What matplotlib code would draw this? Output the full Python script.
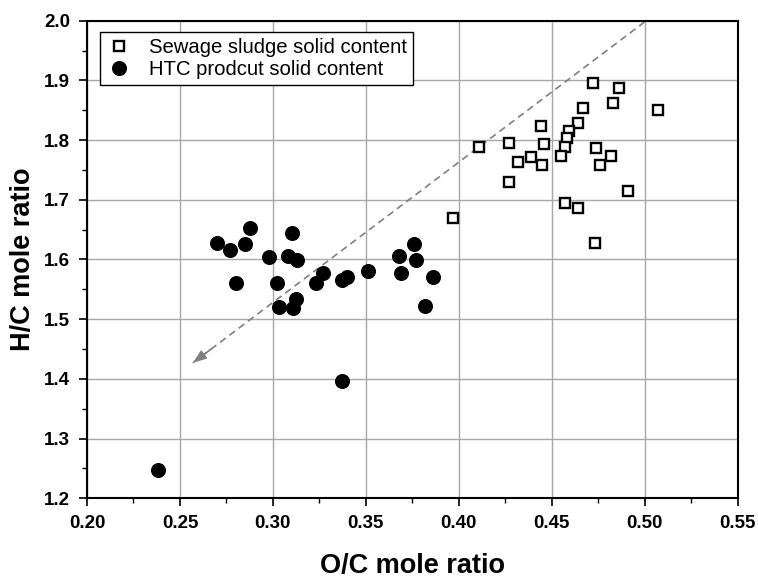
import matplotlib
matplotlib.use("Agg")
import matplotlib.pyplot as plt

plt.rcParams['font.family'] = ['Liberation Sans', 'DejaVu Sans']

# Sewage sludge solid content (O/C, H/C)
sludge_oc = [0.472, 0.486, 0.483, 0.467, 0.444, 0.464, 0.459, 0.458, 0.457, 0.455,
             0.411, 0.427, 0.446, 0.432, 0.439, 0.445, 0.474, 0.482, 0.476, 0.427,
             0.491, 0.457, 0.464, 0.397, 0.473, 0.507]
sludge_hc = [1.896, 1.888, 1.862, 1.853, 1.823, 1.828, 1.815, 1.803, 1.789, 1.773,
             1.788, 1.795, 1.793, 1.764, 1.772, 1.758, 1.786, 1.774, 1.758, 1.730,
             1.714, 1.695, 1.686, 1.669, 1.628, 1.851]

# HTC product solid content (O/C, H/C)
htc_oc = [0.270, 0.277, 0.2875, 0.285, 0.280, 0.298, 0.308, 0.310, 0.313, 0.302,
          0.303, 0.311, 0.3125, 0.323, 0.327, 0.337, 0.340, 0.351, 0.368, 0.376,
          0.377, 0.369, 0.386, 0.382, 0.337, 0.238]
htc_hc = [1.628, 1.616, 1.653, 1.626, 1.560, 1.604, 1.606, 1.644, 1.599, 1.560,
          1.521, 1.518, 1.534, 1.560, 1.577, 1.566, 1.570, 1.581, 1.606, 1.626,
          1.599, 1.578, 1.570, 1.522, 1.396, 1.248]

# Trend arrow (start -> end), in data units
arrow_start = (0.500, 1.998)
arrow_end = (0.257, 1.427)

x_ticks = [0.20, 0.25, 0.30, 0.35, 0.40, 0.45, 0.50, 0.55]
y_ticks = [1.2, 1.3, 1.4, 1.5, 1.6, 1.7, 1.8, 1.9, 2.0]

fig = plt.figure(figsize=(7.58, 5.78), dpi=100)
ax = fig.add_axes([0.1148, 0.1379, 0.8584, 0.8263])

ax.grid(True, color='#a8a8a8', linewidth=1.0, zorder=0)
ax.set_axisbelow(True)

# dashed arrow line
ax.plot([arrow_start[0], arrow_end[0]], [arrow_start[1], arrow_end[1]],
        color='#808080', linewidth=1.2, dashes=(4.2, 2.8), zorder=2)
dx = arrow_end[0] - arrow_start[0]
dy = arrow_end[1] - arrow_start[1]
ax.annotate('', xy=arrow_end,
            xytext=(arrow_end[0] - 0.04 * dx, arrow_end[1] - 0.04 * dy),
            arrowprops=dict(arrowstyle='-|>,head_length=0.8,head_width=0.3',
                            color='#808080', lw=1.2, shrinkA=0, shrinkB=0),
            zorder=2)

ax.plot(sludge_oc, sludge_hc, linestyle='none', marker='s', markersize=7.4,
        markerfacecolor='white', markeredgecolor='black', markeredgewidth=1.7,
        label='Sewage sludge solid content', zorder=3)
ax.plot(htc_oc, htc_hc, linestyle='none', marker='o', markersize=9.8,
        markerfacecolor='black', markeredgecolor='black',
        label='HTC prodcut solid content', zorder=3)

ax.set_xlim(0.20, 0.55)
ax.set_ylim(1.2, 2.0)
ax.set_xticks(x_ticks)
ax.set_yticks(y_ticks)
ax.set_xticklabels([f'{v:.2f}' for v in x_ticks])
ax.set_yticklabels([f'{v:.1f}' for v in y_ticks])
ax.set_xticks([0.225, 0.275, 0.325, 0.375, 0.425, 0.475, 0.525], minor=True)
ax.set_yticks([1.25, 1.35, 1.45, 1.55, 1.65, 1.75, 1.85, 1.95], minor=True)

ax.tick_params(axis='both', which='major', direction='out', length=6, width=1.2,
               labelsize=13.5, pad=6)
ax.tick_params(axis='both', which='minor', direction='out', length=3.5, width=1.0)
for lbl in ax.get_xticklabels() + ax.get_yticklabels():
    lbl.set_fontweight('bold')

for sp in ax.spines.values():
    sp.set_linewidth(1.5)
    sp.set_color('black')

ax.set_xlabel('O/C mole ratio', fontsize=19.5, fontweight='bold', labelpad=15)
ax.set_ylabel('H/C mole ratio', fontsize=19.5, fontweight='bold', labelpad=6)

leg = ax.legend(loc='upper left', bbox_to_anchor=(0.020, 0.976), borderaxespad=0,
                fontsize=14.6, frameon=True, fancybox=False, edgecolor='black',
                framealpha=1, handlelength=1.3, handletextpad=0.8,
                borderpad=0.3, labelspacing=0.12, numpoints=1)
leg.get_frame().set_linewidth(1.0)

fig.savefig('out.png', dpi=100)
